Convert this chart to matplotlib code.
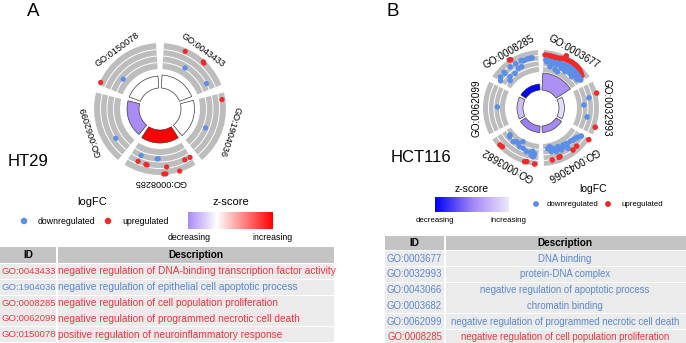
import numpy as np
import matplotlib
matplotlib.use("Agg")
import matplotlib.pyplot as plt
from matplotlib.colors import LinearSegmentedColormap, Normalize
from matplotlib.patches import Rectangle

plt.rcParams['font.family'] = ['Liberation Sans', 'DejaVu Sans']

RED = '#f02a2a'
BLUE = '#5b8ee8'
TXT_RED = '#e8393c'
TXT_BLUE = '#5a88d4'

# ---------------- panel A : HT29 ----------------
terms_A = ["GO:0043433", "GO:1904036", "GO:0008285", "GO:0062099", "GO:0150078"]
desc_A = ["negative regulation of DNA-binding transcription factor activity",
          "negative regulation of epithelial cell apoptotic process",
          "negative regulation of cell population proliferation",
          "negative regulation of programmed necrotic cell death",
          "positive regulation of neuroinflammatory response"]
reg_A = ['up', 'down', 'up', 'up', 'up']
zscore_A = [0.0, 0.0, 1.94, -1.0, 0.0]
bar_A = [13, 13.5, 13, 12, 12]          # inner bar value (relative)
lfc_range_A = (-3.5, 2.5)
# gene position along the term arc (0-1) and its logFC
pos_A = [[0.31, 0.60, 0.62, 0.43, 0.89],
         [0.09, 0.57],
         [0.84, 0.85, 0.72, 0.70, 0.53, 0.55, 0.40, 0.45, 0.42, 0.10, 0.01, 0.23],
         [0.26],
         [0.04, 0.27]]
lfc_A = [[1.78, 2.04, 1.92, -1.65, -0.5],
         [1.74, -1.35],
         [-1.12, 0.35, 0.49, 0.54, -1.26, -1.2, 0.72, 2.3, 2.3, 0.31, 0.42, 2.3],
         [-0.5],
         [2.27, -1.8]]

# ---------------- panel B : HCT116 ----------------
terms_B = ["GO:0003677", "GO:0032993", "GO:0043066", "GO:0003682", "GO:0062099", "GO:0008285"]
desc_B = ["DNA binding", "protein-DNA complex", "negative regulation of apoptotic process",
          "chromatin binding", "negative regulation of programmed necrotic cell death",
          "negative regulation of cell population proliferation"]
reg_B = ['down', 'down', 'down', 'down', 'down', 'up']
zscore_B = [-1.7, -0.5, -1.8, -1.95, -1.0, -3.5]
bar_B = [17, 5.5, 6.5, 6.5, 6, 6]
lfc_range_B = (-4.0, 1.5)
pos_B = [
    [0.026, 0.094, 0.164, 0.235, 0.307, 0.37, 0.437, 0.509, 0.583, 0.667, 0.731, 0.806, 0.867, 0.422,
     0.06, 0.13, 0.2, 0.27, 0.34, 0.4, 0.47, 0.55, 0.62, 0.7, 0.77, 0.84, 0.9,
     0.05, 0.148, 0.241, 0.337, 0.433, 0.526, 0.602, 0.693, 0.772, 0.859, 0.92,
     0.1, 0.19, 0.29, 0.38, 0.48, 0.56, 0.65, 0.73, 0.81, 0.89, 0.96,
     0.08, 0.17, 0.26, 0.36, 0.45, 0.54, 0.63, 0.72, 0.8, 0.88,
     0.172, 0.313, 0.393, 0.454, 0.563, 0.683, 0.767, 0.893],
    [0.222, 0.278, 0.426, 0.704, 0.861],
    [0.822, 0.748, 0.617, 0.487, 0.363, 0.222, 0.1, 0.033, 0.578, 0.696, 0.809, 0.43,
     0.15, 0.28, 0.4, 0.52, 0.65, 0.88,
     0.828, 0.659, 0.259, 0.365, 0.01, 0.685],
    [0.831, 0.222, 0.259, 0.065, 0.778,
     0.852, 0.674, 0.55, 0.383, 0.148, 0.111, 0.824, 0.615, 0.465, 0.48, 0.289, 0.093, 0.117,
     0.1, 0.13, 0.16, 0.19],
    [0.524],
    [0.437, 0.463,
     0.631, 0.761, 0.824, 0.376, 0.504, 0.204, 0.202, 0.081, 0.228, 0.019, 0.161, 0.593, 0.506,
     0.372, 0.87, 0.685]]
lfc_B = [
    [0.3, 0.23, 0.2, 0.15, 0.18, 0.48, 0.68, 0.7, 0.8, 0.75, 0.7, 0.45, 0.05, 1.5,
     0.25, 0.2, 0.17, 0.16, 0.3, 0.55, 0.69, 0.75, 0.78, 0.72, 0.6, 0.35, 0.05,
     -0.93, -1.2, -1.2, -1.03, -0.83, -0.7, -0.53, -0.53, -0.58, -0.7, -0.75,
     -1.0, -1.1, -1.05, -0.85, -0.75, -0.6, -0.55, -0.6, -0.65, -0.75, -0.9,
     -1.4, -1.5, -1.45, -1.35, -1.25, -1.1, -1.0, -1.05, -1.15, -1.2,
     -2.43, -2.73, -3.05, -1.83, -2.13, -1.7, -2.05, -1.55],
    [1.38, -0.75, -2.25, -1.25, 1.38],
    [-3.1, -2.48, -2.45, -2.25, -1.88, -1.68, -1.2, -0.73, -1.33, -1.43, -1.78, -0.88,
     -1.5, -1.9, -2.1, -1.7, -2.0, -2.7,
     0.3, 0.05, 0.05, 0.2, 1.33, 0.13],
    [0.8, 0.88, 1.03, 1.1, 0.68,
     -2.75, -2.1, -2.5, -2.0, -2.0, -0.68, -2.38, -2.58, -3.45, -1.95, -1.5, -1.33, -0.68,
     -1.2, -1.4, -1.0, -1.6],
    [-2.08],
    [1.38, 1.25,
     -0.13, -0.25, -0.28, -0.13, -0.23, -0.13, -0.5, -0.25, -2.0, -0.83, -2.7, -1.6, -1.58,
     -2.18, -0.25, -0.38]]

cmap_A = LinearSegmentedColormap.from_list('zA', [(0, '#a98bf7'), (0.34, '#ffffff'), (1, '#ff0000')])
norm_A = Normalize(-1.0, 1.94)
cmap_B = LinearSegmentedColormap.from_list('zB', [(0, '#0000ff'), (0.5, '#a184f5'), (1, '#eee8fc')])
norm_B = Normalize(-3.5, -0.3)

W, H = 686, 343
fig = plt.figure(figsize=(W / 100, H / 100), dpi=100)
ov = fig.add_axes([0, 0, 1, 1])


def draw_circle(cx, cy, terms, zscore, cmap, norm, bars, pos, lfc, lfc_range,
                r_hole, r_in, r_out, r_lab, lab_size, dot_size, gap_deg):
    R = 85
    ax = fig.add_axes([(cx - R) / W, 1 - (cy + R) / H, 2 * R / W, 2 * R / H], projection='polar')
    ax.set_theta_zero_location('N')
    ax.set_theta_direction(-1)
    ax.set_ylim(0, R)
    ax.set_axis_off()
    n = len(terms)
    step = 2 * np.pi / n
    gap = np.deg2rad(gap_deg)
    lo, hi = lfc_range
    for i, term in enumerate(terms):
        t0 = i * step + gap / 2
        t1 = (i + 1) * step - gap / 2
        mid = (t0 + t1) / 2
        ax.bar(mid, bars[i], width=t1 - t0, bottom=r_hole, color=cmap(norm(zscore[i])),
               edgecolor='#3a3a3a', linewidth=0.5)
        ax.bar(mid, r_out - r_in, width=t1 - t0, bottom=r_in, color='#bdbdbd', linewidth=0)
        tt = np.linspace(t0, t1, 60)
        for k in (1, 2, 3):
            ax.plot(tt, np.full_like(tt, r_in + k * (r_out - r_in) / 4), color='white', lw=0.7)
        v = np.array(lfc[i])
        th = t0 + np.array(pos[i]) * (t1 - t0)
        rr = r_in + (v - lo) / (hi - lo) * (r_out - r_in)
        cols = np.where(v > 0, RED, BLUE)
        ax.scatter(th, rr, s=dot_size, c=cols, edgecolors='none', zorder=3)
        ax.text(mid, r_lab, term, rotation=-np.degrees(mid), rotation_mode='anchor',
                ha='center', va='center', fontsize=lab_size)
    return ax


draw_circle(160, 109, terms_A, zscore_A, cmap_A, norm_A, bar_A, pos_A, lfc_A, lfc_range_A,
            21, 40, 66, 73, 6.6, 14, 7)
draw_circle(541, 108, terms_B, zscore_B, cmap_B, norm_B, bar_B, pos_B, lfc_B, lfc_range_B,
            18, 36, 58, 65, 7.2, 16, 6)

grad = np.linspace(0, 1, 256).reshape(1, -1)

# panel letters and cell line names
ov.text(33.5, 11.5, 'A', fontsize=13.5, ha='center', va='center')
ov.text(393, 11.5, 'B', fontsize=13.5, ha='center', va='center')
ov.text(28, 161.5, 'HT29', fontsize=12, ha='center', va='center')
ov.text(421, 157.5, 'HCT116', fontsize=12, ha='center', va='center')

# legend A
ov.text(92, 202, 'logFC', fontsize=8, ha='center', va='center')
ov.scatter([24], [221], s=22, color=BLUE, edgecolors='none')
ov.text(38, 221, 'downregulated', fontsize=6.3, ha='left', va='center')
ov.scatter([108], [221], s=22, color=RED, edgecolors='none')
ov.text(122, 221, 'upregulated', fontsize=6.3, ha='left', va='center')
ov.text(231, 202, 'z-score', fontsize=8, ha='center', va='center')
ov.imshow(grad, extent=(188, 273, 229, 212), cmap=cmap_A, aspect='auto')
ov.text(189.5, 237.5, 'decreasing', fontsize=6.3, ha='center', va='center')
ov.text(272, 237.5, 'increasing', fontsize=6.3, ha='center', va='center')

# legend B
ov.text(472, 189, 'z-score', fontsize=7.5, ha='center', va='center')
ov.text(593, 189, 'logFC', fontsize=7.5, ha='center', va='center')
ov.imshow(grad, extent=(435, 509, 212, 197), cmap=cmap_B, aspect='auto')
ov.text(435, 220, 'decreasing', fontsize=5.7, ha='center', va='center')
ov.text(508.5, 220, 'increasing', fontsize=5.7, ha='center', va='center')
ov.scatter([536], [204], s=18, color=BLUE, edgecolors='none')
ov.text(547, 204, 'downregulated', fontsize=5.7, ha='left', va='center')
ov.scatter([608], [204], s=18, color=RED, edgecolors='none')
ov.text(621, 204, 'upregulated', fontsize=5.7, ha='left', va='center')

# table A
HEAD = '#c4c4c4'
ROW = '#ebebeb'
pitch = 15.8
ov.add_patch(Rectangle((0, 247.3), 56, 15.5, fc=HEAD, ec='none'))
ov.add_patch(Rectangle((57.5, 247.3), 276, 15.5, fc=HEAD, ec='none'))
ov.text(28, 255, 'ID', fontsize=7.2, fontweight='bold', ha='center', va='center')
ov.text(196, 255, 'Description', fontsize=7.2, fontweight='bold', ha='center', va='center')
for i, (term, d, r) in enumerate(zip(terms_A, desc_A, reg_A)):
    y0 = 264 + i * pitch
    ov.add_patch(Rectangle((0, y0), 56, 15, fc=ROW, ec='none'))
    ov.add_patch(Rectangle((57.5, y0), 276, 15, fc=ROW, ec='none'))
    c = TXT_RED if r == 'up' else TXT_BLUE
    ov.text(1.5, y0 + 7.5, term, fontsize=6.8, color=c, ha='left', va='center')
    ov.text(58.5, y0 + 7.5, d, fontsize=7.25, color=c, ha='left', va='center')

# table B
ov.add_patch(Rectangle((385, 236), 59, 14, fc=HEAD, ec='none'))
ov.add_patch(Rectangle((445.5, 236), 240, 14, fc=HEAD, ec='none'))
ov.text(414.5, 243, 'ID', fontsize=7.2, fontweight='bold', ha='center', va='center')
ov.text(565, 243, 'Description', fontsize=7.2, fontweight='bold', ha='center', va='center')
for i, (term, d, r) in enumerate(zip(terms_B, desc_B, reg_B)):
    y0 = 251 + i * pitch
    ov.add_patch(Rectangle((385, y0), 59, 15, fc=ROW, ec='none'))
    ov.add_patch(Rectangle((445.5, y0), 240, 15, fc=ROW, ec='none'))
    c = TXT_RED if r == 'up' else TXT_BLUE
    ov.text(414.5, y0 + 7.5, term, fontsize=6.9, color=c, ha='center', va='center')
    ov.text(565, y0 + 7.5, d, fontsize=6.9, color=c, ha='center', va='center')

ov.set_xlim(0, W)
ov.set_ylim(H, 0)
ov.axis('off')

fig.savefig('out.png', dpi=100)
